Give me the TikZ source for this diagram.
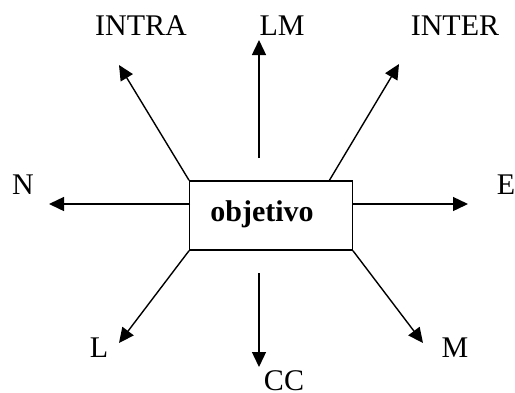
\documentclass[tikz,border=0pt]{standalone}
\usepackage{fontspec}
\setmainfont{Liberation Serif}
\usetikzlibrary{arrows.meta,calc}
\begin{document}
\begin{tikzpicture}[x=1pt,y=-1pt,
  lbl/.style={anchor=base,inner sep=0pt,font=\fontsize{30}{36}\selectfont},
  arr/.style={line width=1.4pt,-{Triangle[length=15pt,width=14pt]}},
  boxst/.style={draw,line width=1.4pt,minimum width=162.5pt,minimum height=69pt,inner sep=0pt}]
\useasboundingbox (0,0) rectangle (515,392);
\node[boxst] (box) at (271,215.5) {};
\node[lbl,font=\fontsize{30}{36}\selectfont\bfseries] (obj) at (262,221) {objetivo};
\node[lbl] (intra) at (141,35) {INTRA};
\node[lbl] (lm) at (282,35) {LM};
\node[lbl] (inter) at (455,35) {INTER};
\node[lbl] (n) at (23,194) {N};
\node[lbl] (e) at (506,194) {E};
\node[lbl] (l) at (99,357) {L};
\node[lbl] (cc) at (284,390) {CC};
\node[lbl] (m) at (455,357) {M};
\coordinate (intraT) at (119,65);
\coordinate (lmS) at (259,158);
\coordinate (lmT) at (259,40);
\coordinate (interS) at (329,181);
\coordinate (interT) at (399,64);
\coordinate (nS) at (190,204);
\coordinate (nT) at (49,204);
\coordinate (eS) at (352.5,204);
\coordinate (eT) at (468,204);
\coordinate (lT) at (119,343);
\coordinate (ccS) at (259,273);
\coordinate (ccT) at (259,367);
\coordinate (mT) at (423,343);
\draw[arr] (box.north west) -- (intraT);
\draw[arr] (lmS) -- (lmT);
\draw[arr] (interS) -- (interT);
\draw[arr] (nS) -- (nT);
\draw[arr] (eS) -- (eT);
\draw[arr] (box.south west) -- (lT);
\draw[arr] (ccS) -- (ccT);
\draw[arr] (box.south east) -- (mT);
\end{tikzpicture}
\end{document}
